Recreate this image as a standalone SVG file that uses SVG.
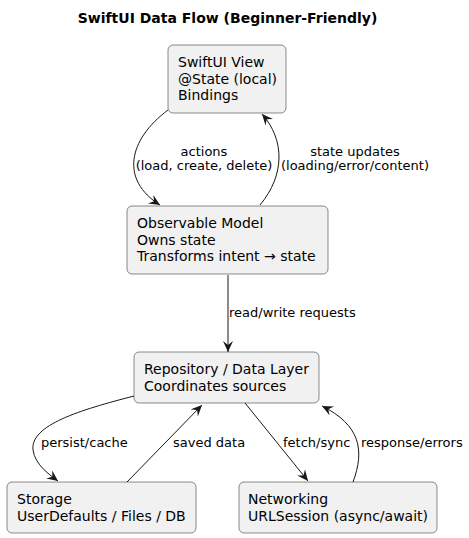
<svg xmlns="http://www.w3.org/2000/svg" width="469" height="538" viewBox="0 0 469 538">
<style>
.bg{fill:#ffffff}
.node rect{fill:#F1F1F1;stroke:#181818;stroke-width:0.5}
.node text{font-family:"DejaVu Sans",sans-serif;font-size:14px;fill:#000000}
.edge{fill:none;stroke:#181818;stroke-width:1;marker-end:url(#arrow)}
.lbl{font-family:"DejaVu Sans",sans-serif;font-size:13px;fill:#000000}
.title{font-family:"DejaVu Sans",sans-serif;font-size:14px;font-weight:bold;fill:#000000}
</style>
<defs>
<marker id="arrow" viewBox="0 0 11 10" refX="11" refY="5" markerWidth="11" markerHeight="10" markerUnits="userSpaceOnUse" orient="auto">
<path d="M0,0 L11,5 L0,10 L4,5 Z" fill="#181818"/>
</marker>
</defs>
<rect class="bg" x="0" y="0" width="469" height="538"/>
<text class="title" x="227.5" y="23" text-anchor="middle">SwiftUI Data Flow (Beginner-Friendly)</text>
<g id="connectors">
<path class="edge" d="M168,110 C128,140 120,180 160,205"/>
<path class="edge" d="M260,205 C285,175 285,140 262,114"/>
<path class="edge" d="M228,275 L228,352"/>
<path class="edge" d="M134,396 C80,410 30,425 33,450 C35,465 50,475 58,481"/>
<path class="edge" d="M127,482 L202,405"/>
<path class="edge" d="M245,403 L308,481"/>
<path class="edge" d="M353,482 C365,450 360,425 322,406"/>
<text class="lbl" x="204" y="156" text-anchor="middle">actions</text>
<text class="lbl" x="204" y="170" text-anchor="middle">(load, create, delete)</text>
<text class="lbl" x="355" y="156" text-anchor="middle">state updates</text>
<text class="lbl" x="355" y="170" text-anchor="middle">(loading/error/content)</text>
<text class="lbl" x="229" y="317">read/write requests</text>
<text class="lbl" x="41" y="447">persist/cache</text>
<text class="lbl" x="173" y="447">saved data</text>
<text class="lbl" x="283" y="447">fetch/sync</text>
<text class="lbl" x="361" y="447">response/errors</text>
</g>
<g id="view" class="node">
<rect x="168" y="45" width="118" height="68" rx="5" ry="5"/>
<text x="178" y="67">SwiftUI View</text>
<text x="178" y="83.5">@State (local)</text>
<text x="178" y="100">Bindings</text>
</g>
<g id="model" class="node">
<rect x="127" y="206" width="201" height="68" rx="5" ry="5"/>
<text x="137" y="228">Observable Model</text>
<text x="137" y="244.5">Owns state</text>
<text x="137" y="261">Transforms intent → state</text>
</g>
<g id="repository" class="node">
<rect x="134" y="352" width="185" height="51" rx="5" ry="5"/>
<text x="144" y="374">Repository / Data Layer</text>
<text x="144" y="390.5">Coordinates sources</text>
</g>
<g id="storage" class="node">
<rect x="7" y="482" width="189" height="51" rx="5" ry="5"/>
<text x="17" y="504">Storage</text>
<text x="17" y="520.5">UserDefaults / Files / DB</text>
</g>
<g id="networking" class="node">
<rect x="239" y="482" width="198" height="51" rx="5" ry="5"/>
<text x="248" y="504">Networking</text>
<text x="248" y="520.5">URLSession (async/await)</text>
</g>
</svg>
